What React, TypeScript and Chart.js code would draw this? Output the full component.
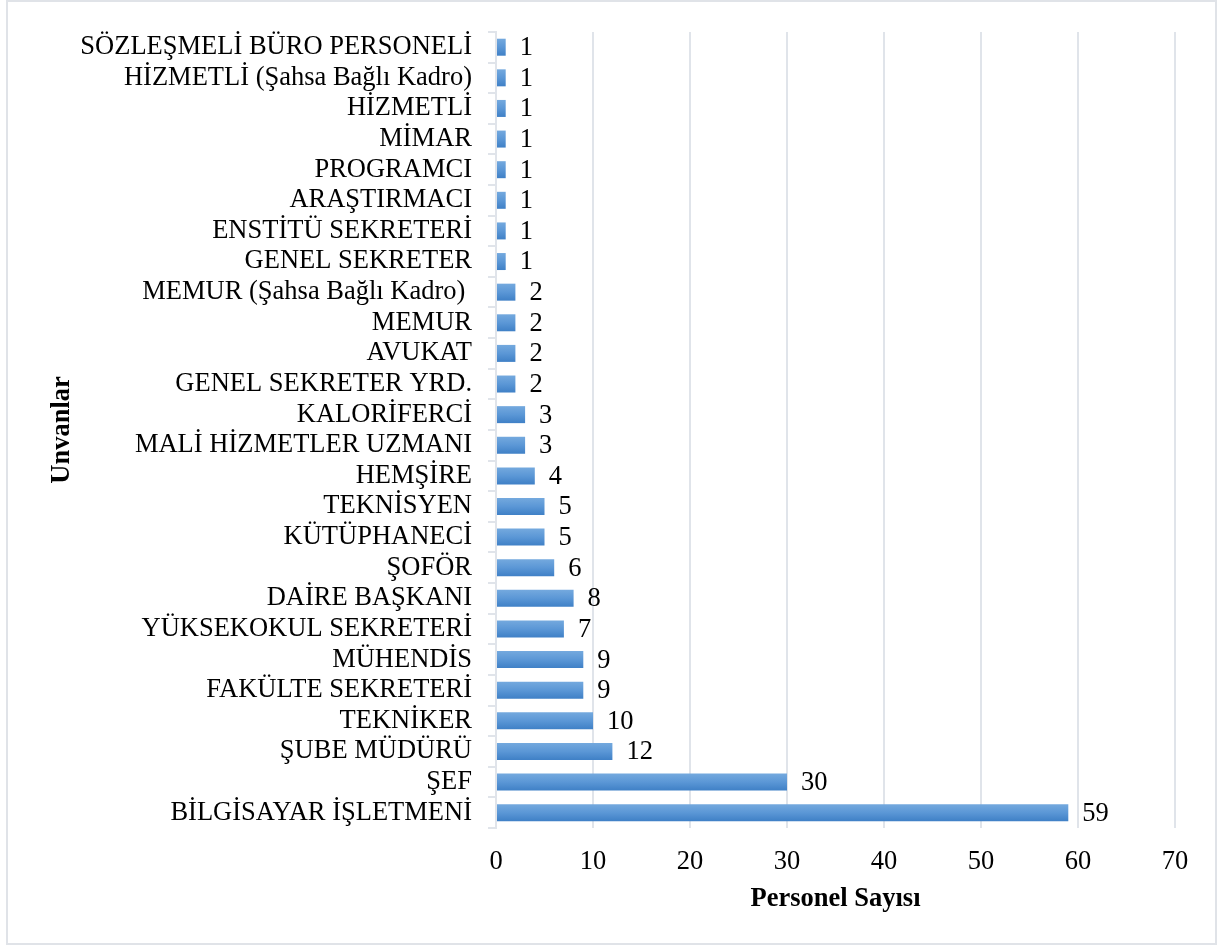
import React, { useEffect, useRef } from "react";
import { Chart, registerables } from "chart.js";

Chart.register(...registerables);

const categories: string[] = [
  "SÖZLEŞMELİ BÜRO PERSONELİ",
  "HİZMETLİ (Şahsa Bağlı Kadro)",
  "HİZMETLİ",
  "MİMAR",
  "PROGRAMCI",
  "ARAŞTIRMACI",
  "ENSTİTÜ SEKRETERİ",
  "GENEL SEKRETER",
  "MEMUR (Şahsa Bağlı Kadro) ",
  "MEMUR",
  "AVUKAT",
  "GENEL SEKRETER YRD.",
  "KALORİFERCİ",
  "MALİ HİZMETLER UZMANI",
  "HEMŞİRE",
  "TEKNİSYEN",
  "KÜTÜPHANECİ",
  "ŞOFÖR",
  "DAİRE BAŞKANI",
  "YÜKSEKOKUL SEKRETERİ",
  "MÜHENDİS",
  "FAKÜLTE SEKRETERİ",
  "TEKNİKER",
  "ŞUBE MÜDÜRÜ",
  "ŞEF",
  "BİLGİSAYAR İŞLETMENİ",
];

const personnelCounts: number[] = [
  1, 1, 1, 1, 1, 1, 1, 1, 2, 2, 2, 2, 3, 3, 4, 5, 5, 6, 8, 7, 9, 9, 10, 12, 30, 59,
];

const xTickValues: number[] = [0, 10, 20, 30, 40, 50, 60, 70];

const xAxisTitle = "Personel Sayısı";
const yAxisTitle = "Unvanlar";

const FONT_FAMILY = "'Liberation Serif', 'Times New Roman', serif";
const FONT_SIZE = 26.5;
const GRID_COLOR = "#e0e4ea";

// Writes each bar's value just past its right end.
const valueLabels = {
  id: "valueLabels",
  afterDatasetsDraw(chart: Chart) {
    const { ctx } = chart;
    const meta = chart.getDatasetMeta(0);
    const values = chart.data.datasets[0].data as number[];
    ctx.save();
    ctx.font = `${FONT_SIZE}px ${FONT_FAMILY}`;
    ctx.fillStyle = "#000";
    ctx.textAlign = "left";
    ctx.textBaseline = "middle";
    meta.data.forEach((bar: any, i: number) => {
      ctx.fillText(String(values[i]), bar.x + 14, bar.y + 1);
    });
    ctx.restore();
  },
};

// Vertical light-to-dark fill inside every bar.
function barGradient(context: any) {
  const chart = context.chart;
  const yScale = chart.scales?.y;
  if (!yScale || context.dataIndex === undefined) return "#5b9bd5";
  const center = yScale.getPixelForValue(context.dataIndex);
  if (!Number.isFinite(center)) return "#5b9bd5";
  const half = 8.5;
  const g = chart.ctx.createLinearGradient(0, center - half, 0, center + half);
  g.addColorStop(0, "#74a9de");
  g.addColorStop(0.5, "#5b97d6");
  g.addColorStop(1, "#3f80c6");
  return g;
}

export default function App() {
  const canvasRef = useRef<HTMLCanvasElement | null>(null);

  useEffect(() => {
    if (!canvasRef.current) return;
    const chart = new Chart(canvasRef.current, {
      type: "bar",
      data: {
        labels: categories,
        datasets: [
          {
            data: personnelCounts,
            backgroundColor: barGradient,
            borderWidth: 0,
            categoryPercentage: 1,
            barPercentage: 0.555,
          },
        ],
      },
      options: {
        indexAxis: "y",
        animation: false,
        responsive: false,
        maintainAspectRatio: false,
        layout: { padding: { left: 0, right: 42, top: 30, bottom: 0 } },
        plugins: {
          legend: { display: false },
          tooltip: { enabled: false },
        },
        scales: {
          x: {
            min: 0,
            max: 70,
            afterBuildTicks(scale: any) {
              scale.ticks = xTickValues.map((v) => ({ value: v }));
            },
            afterFit(scale: any) {
              scale.height = 119;
            },
            grid: {
              color: GRID_COLOR,
              lineWidth: 2,
              drawTicks: false,
              tickLength: 0,
            },
            border: { display: false },
            ticks: {
              color: "#000",
              padding: 18,
              font: { family: FONT_FAMILY, size: FONT_SIZE },
            },
            title: {
              display: true,
              text: xAxisTitle,
              color: "#000",
              font: { family: FONT_FAMILY, size: FONT_SIZE, weight: "bold" },
              padding: { top: 0, bottom: 32 },
            },
          },
          y: {
            afterFit(scale: any) {
              scale.width = 496;
            },
            grid: {
              display: true,
              drawOnChartArea: false,
              drawTicks: true,
              tickLength: 8,
              offset: true,
              color: GRID_COLOR,
              lineWidth: 2,
            },
            border: { display: true, color: GRID_COLOR, width: 2 },
            ticks: {
              color: "#000",
              padding: 16,
              autoSkip: false,
              font: { family: FONT_FAMILY, size: FONT_SIZE },
            },
            title: {
              display: true,
              text: yAxisTitle,
              color: "#000",
              font: { family: FONT_FAMILY, size: FONT_SIZE, weight: "bold" },
              padding: { top: 46, bottom: 0 },
            },
          },
        },
      },
      plugins: [valueLabels],
    });
    return () => chart.destroy();
  }, []);

  return (
    <div
      style={{
        position: "fixed",
        left: 0,
        top: 0,
        width: 1217,
        height: 947,
        background: "#fff",
      }}
    >
      <canvas ref={canvasRef} width={1217} height={947} style={{ display: "block" }} />
      <div
        style={{
          position: "absolute",
          left: 6,
          top: 0,
          width: 1211,
          height: 945,
          boxSizing: "border-box",
          border: "2px solid #e0e3e8",
          pointerEvents: "none",
        }}
      />
    </div>
  );
}
